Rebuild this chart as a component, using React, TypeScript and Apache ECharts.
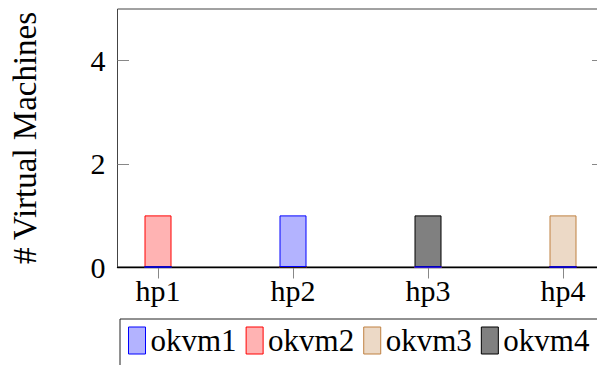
import React, { useEffect, useRef } from "react";
import * as echarts from "echarts";

const hosts = ["hp1", "hp2", "hp3", "hp4"];
const hostPositions = [1, 2, 3, 4];
const seriesNames = ["okvm1", "okvm2", "okvm3", "okvm4"];
const okvm1 = [0, 1, 0, 0];
const okvm2 = [1, 0, 0, 0];
const okvm3 = [0, 0, 0, 1];
const okvm4 = [0, 0, 1, 0];
const yTicks = [0, 2, 4];
const yTickMarks = [2, 4];

const fills = ["#B3B3FF", "#FFB3B3", "#ECD9C6", "#808080"];
const strokes = ["#0000FF", "#FF0000", "#BF8040", "#000000"];
const FONT = "Liberation Serif, Times New Roman, serif";

export default function App() {
  const ref = useRef<HTMLDivElement>(null);
  useEffect(() => {
    if (!ref.current) return;
    const chart = echarts.init(ref.current, undefined, { renderer: "svg" });
    const values = [okvm1, okvm2, okvm3, okvm4];
    const order = [1, 2, 3, 0];
    const series = order.map((i) => ({
      name: seriesNames[i],
      type: "bar" as const,
      barWidth: 27,
      barGap: "-100%",
      z: i === 0 ? 3 : 2,
      data: hostPositions.map((x, k) => [x, values[i][k]]),
      itemStyle: { color: fills[i], borderColor: strokes[i], borderWidth: 1 },
    }));
    const tickStyle = { color: "#888", width: 1 };
    chart.setOption({
      animation: false,
      textStyle: { fontFamily: FONT },
      grid: {
        left: 117.5,
        top: 9,
        width: 486,
        height: 258,
        show: true,
        borderColor: "#444",
        borderWidth: 1,
        containLabel: false,
        outerBoundsMode: "none",
      },
      legend: {
        data: seriesNames,
        left: 120,
        top: 319,
        width: 560,
        orient: "horizontal",
        padding: [6, 30, 30, 8],
        borderColor: "#222",
        borderWidth: 1,
        itemWidth: 17,
        itemHeight: 27,
        itemGap: 9,
        icon: "rect",
        itemStyle: { borderWidth: 1 },
        textStyle: { fontFamily: FONT, fontSize: 31, color: "#000", padding: [0, 0, 0, 0] },
      },
      xAxis: [
        {
          type: "value",
          min: 0.7,
          max: 4.3,
          position: "bottom",
          axisLine: { show: true, onZero: false, lineStyle: { color: "#000", width: 1.3 } },
          axisTick: { show: true, inside: true, length: 11.5, lineStyle: tickStyle, customValues: hostPositions },
          axisLabel: {
            customValues: hostPositions,
            formatter: (v: number) => hosts[Math.round(v) - 1] ?? "",
            fontFamily: FONT,
            fontSize: 30,
            color: "#000",
            margin: 8,
          },
          splitLine: { show: false },
        },
        {
          type: "value",
          min: 0.7,
          max: 4.3,
          position: "top",
          axisLine: { show: false },
          axisTick: { show: true, inside: true, length: 11.5, lineStyle: tickStyle, customValues: hostPositions },
          axisLabel: { show: false },
          splitLine: { show: false },
        },
      ],
      yAxis: [
        {
          type: "value",
          min: 0,
          max: 5,
          position: "left",
          name: "# Virtual Machines",
          nameLocation: "middle",
          nameGap: 76,
          nameTextStyle: { fontFamily: FONT, fontSize: 33, color: "#000" },
          axisLine: { show: false },
          axisTick: { show: true, inside: true, length: 11.5, lineStyle: tickStyle, customValues: yTickMarks },
          axisLabel: { customValues: yTicks, fontFamily: FONT, fontSize: 30, color: "#000", margin: 12 },
          splitLine: { show: false },
        },
        {
          type: "value",
          min: 0,
          max: 5,
          position: "right",
          axisLine: { show: false },
          axisTick: { show: true, inside: true, length: 11.5, lineStyle: tickStyle, customValues: yTickMarks },
          axisLabel: { show: false },
          splitLine: { show: false },
        },
      ],
      series,
    });
    return () => chart.dispose();
  }, []);
  return (
    <div
      ref={ref}
      style={{ position: "fixed", left: 0, top: 0, width: 597, height: 365, background: "#fff" }}
    />
  );
}
